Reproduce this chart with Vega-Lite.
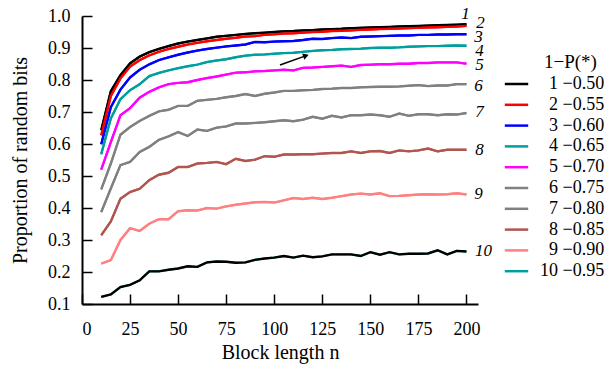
{
  "$schema": "https://vega.github.io/schema/vega-lite/v6.json",
  "autosize": {"type": "none"},
  "width": 396,
  "height": 288,
  "padding": {"left": 82, "top": 16, "right": 129, "bottom": 66},
  "background": "white",
  "config": {
    "view": {"stroke": null},
    "font": "Liberation Serif",
    "axis": {
      "grid": false,
      "domainColor": "black",
      "domainWidth": 2,
      "tickColor": "black",
      "tickWidth": 1.5,
      "tickSize": -10,
      "labelFont": "Liberation Serif",
      "labelFontSize": 18,
      "labelColor": "black",
      "titleFont": "Liberation Serif",
      "titleFontSize": 20,
      "titleFontWeight": "normal",
      "titleColor": "black"
    },
    "legend": {
      "labelFont": "Liberation Serif",
      "titleFont": "Liberation Serif",
      "labelColor": "black",
      "titleColor": "black"
    }
  },
  "datasets": {
    "curves": [
      {"c":1,"n":10,"p":0.643},{"c":1,"n":15,"p":0.765},{"c":1,"n":20,"p":0.815},{"c":1,"n":25,"p":0.852},{"c":1,"n":30,"p":0.873},{"c":1,"n":35,"p":0.887},{"c":1,"n":40,"p":0.897},{"c":1,"n":45,"p":0.906},{"c":1,"n":50,"p":0.914},{"c":1,"n":55,"p":0.92},{"c":1,"n":60,"p":0.925},{"c":1,"n":65,"p":0.93},{"c":1,"n":70,"p":0.935},{"c":1,"n":75,"p":0.938},{"c":1,"n":80,"p":0.941},{"c":1,"n":85,"p":0.944},{"c":1,"n":90,"p":0.946},{"c":1,"n":95,"p":0.948},{"c":1,"n":100,"p":0.95},{"c":1,"n":105,"p":0.952},{"c":1,"n":110,"p":0.953},{"c":1,"n":115,"p":0.955},{"c":1,"n":120,"p":0.956},{"c":1,"n":125,"p":0.958},{"c":1,"n":130,"p":0.959},{"c":1,"n":135,"p":0.96},{"c":1,"n":140,"p":0.962},{"c":1,"n":145,"p":0.963},{"c":1,"n":150,"p":0.964},{"c":1,"n":155,"p":0.965},{"c":1,"n":160,"p":0.966},{"c":1,"n":165,"p":0.967},{"c":1,"n":170,"p":0.968},{"c":1,"n":175,"p":0.969},{"c":1,"n":180,"p":0.97},{"c":1,"n":185,"p":0.971},{"c":1,"n":190,"p":0.972},{"c":1,"n":195,"p":0.973},{"c":1,"n":200,"p":0.974},
      {"c":2,"n":10,"p":0.627},{"c":2,"n":15,"p":0.75},{"c":2,"n":20,"p":0.805},{"c":2,"n":25,"p":0.842},{"c":2,"n":30,"p":0.862},{"c":2,"n":35,"p":0.877},{"c":2,"n":40,"p":0.888},{"c":2,"n":45,"p":0.897},{"c":2,"n":50,"p":0.904},{"c":2,"n":55,"p":0.911},{"c":2,"n":60,"p":0.916},{"c":2,"n":65,"p":0.921},{"c":2,"n":70,"p":0.925},{"c":2,"n":75,"p":0.929},{"c":2,"n":80,"p":0.932},{"c":2,"n":85,"p":0.936},{"c":2,"n":90,"p":0.937},{"c":2,"n":95,"p":0.941},{"c":2,"n":100,"p":0.943},{"c":2,"n":105,"p":0.945},{"c":2,"n":110,"p":0.946},{"c":2,"n":115,"p":0.948},{"c":2,"n":120,"p":0.95},{"c":2,"n":125,"p":0.951},{"c":2,"n":130,"p":0.953},{"c":2,"n":135,"p":0.954},{"c":2,"n":140,"p":0.955},{"c":2,"n":145,"p":0.957},{"c":2,"n":150,"p":0.958},{"c":2,"n":155,"p":0.959},{"c":2,"n":160,"p":0.96},{"c":2,"n":165,"p":0.961},{"c":2,"n":170,"p":0.962},{"c":2,"n":175,"p":0.963},{"c":2,"n":180,"p":0.964},{"c":2,"n":185,"p":0.965},{"c":2,"n":190,"p":0.966},{"c":2,"n":195,"p":0.967},{"c":2,"n":200,"p":0.969},
      {"c":3,"n":10,"p":0.599},{"c":3,"n":15,"p":0.715},{"c":3,"n":20,"p":0.77},{"c":3,"n":25,"p":0.808},{"c":3,"n":30,"p":0.832},{"c":3,"n":35,"p":0.849},{"c":3,"n":40,"p":0.862},{"c":3,"n":45,"p":0.871},{"c":3,"n":50,"p":0.879},{"c":3,"n":55,"p":0.886},{"c":3,"n":60,"p":0.892},{"c":3,"n":65,"p":0.897},{"c":3,"n":70,"p":0.901},{"c":3,"n":75,"p":0.905},{"c":3,"n":80,"p":0.908},{"c":3,"n":85,"p":0.911},{"c":3,"n":90,"p":0.919},{"c":3,"n":95,"p":0.918},{"c":3,"n":100,"p":0.92},{"c":3,"n":105,"p":0.921},{"c":3,"n":110,"p":0.922},{"c":3,"n":115,"p":0.925},{"c":3,"n":120,"p":0.929},{"c":3,"n":125,"p":0.928},{"c":3,"n":130,"p":0.931},{"c":3,"n":135,"p":0.933},{"c":3,"n":140,"p":0.931},{"c":3,"n":145,"p":0.935},{"c":3,"n":150,"p":0.936},{"c":3,"n":155,"p":0.937},{"c":3,"n":160,"p":0.938},{"c":3,"n":165,"p":0.939},{"c":3,"n":170,"p":0.939},{"c":3,"n":175,"p":0.941},{"c":3,"n":180,"p":0.941},{"c":3,"n":185,"p":0.942},{"c":3,"n":190,"p":0.942},{"c":3,"n":195,"p":0.943},{"c":3,"n":200,"p":0.943},
      {"c":4,"n":10,"p":0.568},{"c":4,"n":15,"p":0.68},{"c":4,"n":20,"p":0.74},{"c":4,"n":25,"p":0.768},{"c":4,"n":30,"p":0.787},{"c":4,"n":35,"p":0.812},{"c":4,"n":40,"p":0.822},{"c":4,"n":45,"p":0.83},{"c":4,"n":50,"p":0.837},{"c":4,"n":55,"p":0.843},{"c":4,"n":60,"p":0.848},{"c":4,"n":65,"p":0.856},{"c":4,"n":70,"p":0.861},{"c":4,"n":75,"p":0.865},{"c":4,"n":80,"p":0.871},{"c":4,"n":85,"p":0.876},{"c":4,"n":90,"p":0.879},{"c":4,"n":95,"p":0.88},{"c":4,"n":100,"p":0.882},{"c":4,"n":105,"p":0.884},{"c":4,"n":110,"p":0.885},{"c":4,"n":115,"p":0.888},{"c":4,"n":120,"p":0.891},{"c":4,"n":125,"p":0.893},{"c":4,"n":130,"p":0.894},{"c":4,"n":135,"p":0.896},{"c":4,"n":140,"p":0.897},{"c":4,"n":145,"p":0.898},{"c":4,"n":150,"p":0.9},{"c":4,"n":155,"p":0.901},{"c":4,"n":160,"p":0.901},{"c":4,"n":165,"p":0.902},{"c":4,"n":170,"p":0.904},{"c":4,"n":175,"p":0.905},{"c":4,"n":180,"p":0.906},{"c":4,"n":185,"p":0.906},{"c":4,"n":190,"p":0.907},{"c":4,"n":195,"p":0.908},{"c":4,"n":200,"p":0.907},
      {"c":5,"n":10,"p":0.52},{"c":5,"n":15,"p":0.606},{"c":5,"n":20,"p":0.69},{"c":5,"n":25,"p":0.712},{"c":5,"n":30,"p":0.745},{"c":5,"n":35,"p":0.763},{"c":5,"n":40,"p":0.777},{"c":5,"n":45,"p":0.787},{"c":5,"n":50,"p":0.791},{"c":5,"n":55,"p":0.793},{"c":5,"n":60,"p":0.8},{"c":5,"n":65,"p":0.806},{"c":5,"n":70,"p":0.811},{"c":5,"n":75,"p":0.817},{"c":5,"n":80,"p":0.823},{"c":5,"n":85,"p":0.824},{"c":5,"n":90,"p":0.827},{"c":5,"n":95,"p":0.828},{"c":5,"n":100,"p":0.83},{"c":5,"n":105,"p":0.832},{"c":5,"n":110,"p":0.83},{"c":5,"n":115,"p":0.838},{"c":5,"n":120,"p":0.839},{"c":5,"n":125,"p":0.841},{"c":5,"n":130,"p":0.843},{"c":5,"n":135,"p":0.845},{"c":5,"n":140,"p":0.841},{"c":5,"n":145,"p":0.847},{"c":5,"n":150,"p":0.848},{"c":5,"n":155,"p":0.849},{"c":5,"n":160,"p":0.849},{"c":5,"n":165,"p":0.851},{"c":5,"n":170,"p":0.851},{"c":5,"n":175,"p":0.853},{"c":5,"n":180,"p":0.853},{"c":5,"n":185,"p":0.855},{"c":5,"n":190,"p":0.855},{"c":5,"n":195,"p":0.855},{"c":5,"n":200,"p":0.851},
      {"c":6,"n":10,"p":0.458},{"c":6,"n":15,"p":0.539},{"c":6,"n":20,"p":0.629},{"c":6,"n":25,"p":0.653},{"c":6,"n":30,"p":0.672},{"c":6,"n":35,"p":0.688},{"c":6,"n":40,"p":0.702},{"c":6,"n":45,"p":0.707},{"c":6,"n":50,"p":0.719},{"c":6,"n":55,"p":0.719},{"c":6,"n":60,"p":0.735},{"c":6,"n":65,"p":0.738},{"c":6,"n":70,"p":0.741},{"c":6,"n":75,"p":0.746},{"c":6,"n":80,"p":0.75},{"c":6,"n":85,"p":0.756},{"c":6,"n":90,"p":0.75},{"c":6,"n":95,"p":0.757},{"c":6,"n":100,"p":0.761},{"c":6,"n":105,"p":0.766},{"c":6,"n":110,"p":0.766},{"c":6,"n":115,"p":0.768},{"c":6,"n":120,"p":0.769},{"c":6,"n":125,"p":0.772},{"c":6,"n":130,"p":0.773},{"c":6,"n":135,"p":0.775},{"c":6,"n":140,"p":0.775},{"c":6,"n":145,"p":0.777},{"c":6,"n":150,"p":0.778},{"c":6,"n":155,"p":0.779},{"c":6,"n":160,"p":0.779},{"c":6,"n":165,"p":0.78},{"c":6,"n":170,"p":0.782},{"c":6,"n":175,"p":0.784},{"c":6,"n":180,"p":0.781},{"c":6,"n":185,"p":0.783},{"c":6,"n":190,"p":0.783},{"c":6,"n":195,"p":0.787},{"c":6,"n":200,"p":0.787},
      {"c":7,"n":10,"p":0.387},{"c":7,"n":15,"p":0.461},{"c":7,"n":20,"p":0.534},{"c":7,"n":25,"p":0.544},{"c":7,"n":30,"p":0.575},{"c":7,"n":35,"p":0.591},{"c":7,"n":40,"p":0.613},{"c":7,"n":45,"p":0.624},{"c":7,"n":50,"p":0.637},{"c":7,"n":55,"p":0.625},{"c":7,"n":60,"p":0.645},{"c":7,"n":65,"p":0.641},{"c":7,"n":70,"p":0.651},{"c":7,"n":75,"p":0.655},{"c":7,"n":80,"p":0.664},{"c":7,"n":85,"p":0.664},{"c":7,"n":90,"p":0.666},{"c":7,"n":95,"p":0.668},{"c":7,"n":100,"p":0.671},{"c":7,"n":105,"p":0.674},{"c":7,"n":110,"p":0.671},{"c":7,"n":115,"p":0.676},{"c":7,"n":120,"p":0.685},{"c":7,"n":125,"p":0.679},{"c":7,"n":130,"p":0.688},{"c":7,"n":135,"p":0.683},{"c":7,"n":140,"p":0.69},{"c":7,"n":145,"p":0.69},{"c":7,"n":150,"p":0.692},{"c":7,"n":155,"p":0.69},{"c":7,"n":160,"p":0.685},{"c":7,"n":165,"p":0.695},{"c":7,"n":170,"p":0.688},{"c":7,"n":175,"p":0.693},{"c":7,"n":180,"p":0.693},{"c":7,"n":185,"p":0.69},{"c":7,"n":190,"p":0.693},{"c":7,"n":195,"p":0.692},{"c":7,"n":200,"p":0.697},
      {"c":8,"n":10,"p":0.315},{"c":8,"n":15,"p":0.358},{"c":8,"n":20,"p":0.429},{"c":8,"n":25,"p":0.45},{"c":8,"n":30,"p":0.46},{"c":8,"n":35,"p":0.487},{"c":8,"n":40,"p":0.504},{"c":8,"n":45,"p":0.51},{"c":8,"n":50,"p":0.528},{"c":8,"n":55,"p":0.528},{"c":8,"n":60,"p":0.539},{"c":8,"n":65,"p":0.541},{"c":8,"n":70,"p":0.544},{"c":8,"n":75,"p":0.537},{"c":8,"n":80,"p":0.554},{"c":8,"n":85,"p":0.547},{"c":8,"n":90,"p":0.551},{"c":8,"n":95,"p":0.562},{"c":8,"n":100,"p":0.56},{"c":8,"n":105,"p":0.567},{"c":8,"n":110,"p":0.567},{"c":8,"n":115,"p":0.568},{"c":8,"n":120,"p":0.568},{"c":8,"n":125,"p":0.57},{"c":8,"n":130,"p":0.572},{"c":8,"n":135,"p":0.572},{"c":8,"n":140,"p":0.577},{"c":8,"n":145,"p":0.572},{"c":8,"n":150,"p":0.577},{"c":8,"n":155,"p":0.578},{"c":8,"n":160,"p":0.572},{"c":8,"n":165,"p":0.58},{"c":8,"n":170,"p":0.577},{"c":8,"n":175,"p":0.58},{"c":8,"n":180,"p":0.586},{"c":8,"n":185,"p":0.577},{"c":8,"n":190,"p":0.582},{"c":8,"n":195,"p":0.582},{"c":8,"n":200,"p":0.582},
      {"c":9,"n":10,"p":0.226},{"c":9,"n":15,"p":0.237},{"c":9,"n":20,"p":0.3},{"c":9,"n":25,"p":0.337},{"c":9,"n":30,"p":0.328},{"c":9,"n":35,"p":0.351},{"c":9,"n":40,"p":0.365},{"c":9,"n":45,"p":0.365},{"c":9,"n":50,"p":0.39},{"c":9,"n":55,"p":0.393},{"c":9,"n":60,"p":0.392},{"c":9,"n":65,"p":0.4},{"c":9,"n":70,"p":0.398},{"c":9,"n":75,"p":0.405},{"c":9,"n":80,"p":0.41},{"c":9,"n":85,"p":0.414},{"c":9,"n":90,"p":0.418},{"c":9,"n":95,"p":0.419},{"c":9,"n":100,"p":0.417},{"c":9,"n":105,"p":0.424},{"c":9,"n":110,"p":0.431},{"c":9,"n":115,"p":0.428},{"c":9,"n":120,"p":0.432},{"c":9,"n":125,"p":0.428},{"c":9,"n":130,"p":0.432},{"c":9,"n":135,"p":0.437},{"c":9,"n":140,"p":0.442},{"c":9,"n":145,"p":0.445},{"c":9,"n":150,"p":0.442},{"c":9,"n":155,"p":0.446},{"c":9,"n":160,"p":0.437},{"c":9,"n":165,"p":0.438},{"c":9,"n":170,"p":0.44},{"c":9,"n":175,"p":0.442},{"c":9,"n":180,"p":0.443},{"c":9,"n":185,"p":0.442},{"c":9,"n":190,"p":0.443},{"c":9,"n":195,"p":0.446},{"c":9,"n":200,"p":0.442},
      {"c":10,"n":10,"p":0.122},{"c":10,"n":15,"p":0.13},{"c":10,"n":20,"p":0.153},{"c":10,"n":25,"p":0.16},{"c":10,"n":30,"p":0.174},{"c":10,"n":35,"p":0.202},{"c":10,"n":40,"p":0.202},{"c":10,"n":45,"p":0.207},{"c":10,"n":50,"p":0.211},{"c":10,"n":55,"p":0.218},{"c":10,"n":60,"p":0.216},{"c":10,"n":65,"p":0.23},{"c":10,"n":70,"p":0.233},{"c":10,"n":75,"p":0.232},{"c":10,"n":80,"p":0.229},{"c":10,"n":85,"p":0.23},{"c":10,"n":90,"p":0.238},{"c":10,"n":95,"p":0.242},{"c":10,"n":100,"p":0.245},{"c":10,"n":105,"p":0.25},{"c":10,"n":110,"p":0.245},{"c":10,"n":115,"p":0.251},{"c":10,"n":120,"p":0.246},{"c":10,"n":125,"p":0.249},{"c":10,"n":130,"p":0.255},{"c":10,"n":135,"p":0.255},{"c":10,"n":140,"p":0.255},{"c":10,"n":145,"p":0.25},{"c":10,"n":150,"p":0.262},{"c":10,"n":155,"p":0.254},{"c":10,"n":160,"p":0.262},{"c":10,"n":165,"p":0.255},{"c":10,"n":170,"p":0.257},{"c":10,"n":175,"p":0.257},{"c":10,"n":180,"p":0.258},{"c":10,"n":185,"p":0.268},{"c":10,"n":190,"p":0.255},{"c":10,"n":195,"p":0.266},{"c":10,"n":200,"p":0.264}
    ],
    "labels": [
      {"t":"1","n":199.5,"p":1.006},
      {"t":"2","n":207.3,"p":0.978},
      {"t":"3","n":206.3,"p":0.934},
      {"t":"4","n":206.8,"p":0.891},
      {"t":"5","n":206.8,"p":0.846},
      {"t":"6","n":206.3,"p":0.78},
      {"t":"7","n":206.8,"p":0.699},
      {"t":"8","n":206.8,"p":0.58},
      {"t":"9","n":206.3,"p":0.443},
      {"t":"10","n":208.9,"p":0.265}
    ],
    "arrow": [
      {"n":103,"p":0.847,"n2":117,"p2":0.877}
    ],
    "arrowhead": [
      {"n":116.5,"p":0.876}
    ]
  },
  "encoding": {
    "x": {
      "field": "n",
      "type": "quantitative",
      "scale": {"domain": [0, 206], "nice": false, "zero": false},
      "axis": {
        "values": [0, 25, 50, 75, 100, 125, 150, 175, 200],
        "title": "Block length n",
        "labelPadding": 26,
        "titlePadding": 4
      }
    },
    "y": {
      "field": "p",
      "type": "quantitative",
      "scale": {"domain": [0.1, 1.0], "nice": false, "zero": false},
      "axis": {
        "values": [0.1, 0.2, 0.3, 0.4, 0.5, 0.6, 0.7, 0.8, 0.9, 1.0],
        "format": ".1f",
        "title": "Proportion of random bits",
        "labelPadding": 22,
        "titlePadding": 17
      }
    }
  },
  "layer": [
    {
      "data": {"name": "curves"},
      "mark": {"type": "line", "strokeWidth": 2},
      "encoding": {
        "color": {
          "field": "c",
          "type": "nominal",
          "scale": {
            "domain": [1, 2, 3, 4, 5, 6, 7, 8, 9, 10],
            "range": ["#000000", "#ff0000", "#0000ff", "#009e9e", "#ff00ff", "#808080", "#808080", "#b0564e", "#ff8080", "#009e9e"]
          },
          "legend": {
            "title": "\u200b\u00a0\u00a0\u00a0\u00a0\u00a0\u00a0\u00a0\u00a01\u2212P(*)",
            "titleFontSize": 19,
            "titleFontWeight": "normal",
            "titleAnchor": "start",
            "titlePadding": 1.5,
            "orient": "none",
            "legendX": 424,
            "legendY": 37,
            "symbolType": "M-1.3,0H1.3",
            "symbolSize": 324,
            "symbolStrokeWidth": 2.5,
            "labelFontSize": 18,
            "labelOffset": 13,
            "rowPadding": 0.8,
            "labelLimit": 200,
            "labelExpr": "['', '\u200b\u00a0\u00a01 \u22120.50', '\u200b\u00a0\u00a02 \u22120.55', '\u200b\u00a0\u00a03 \u22120.60', '\u200b\u00a0\u00a04 \u22120.65', '\u200b\u00a0\u00a05 \u22120.70', '\u200b\u00a0\u00a06 \u22120.75', '\u200b\u00a0\u00a07 \u22120.80', '\u200b\u00a0\u00a08 \u22120.85', '\u200b\u00a0\u00a09 \u22120.90', '10 \u22120.95'][datum.value]"
          }
        }
      }
    },
    {
      "data": {"name": "curves"},
      "mark": {"type": "line", "strokeWidth": 2.4},
      "encoding": {
        "color": {
          "field": "c",
          "type": "nominal",
          "scale": {
            "domain": [1, 2, 3, 4, 5, 6, 7, 8, 9, 10],
            "range": ["#000000", "#ff0000", "#0000ff", "#009e9e", "#ff00ff", "#808080", "#808080", "#b0564e", "#ff8080", "#000000"]
          },
          "legend": null
        }
      }
    },
    {
      "data": {"name": "labels"},
      "mark": {"type": "text", "font": "Liberation Serif", "fontSize": 17, "fontStyle": "italic", "align": "center", "baseline": "middle", "color": "black"},
      "encoding": {"text": {"field": "t"}}
    },
    {
      "data": {"name": "arrow"},
      "mark": {"type": "rule", "color": "black", "strokeWidth": 1.5},
      "encoding": {"x2": {"field": "n2"}, "y2": {"field": "p2"}}
    },
    {
      "data": {"name": "arrowhead"},
      "mark": {"type": "point", "shape": "triangle-right", "filled": true, "color": "black", "size": 45, "angle": -20, "opacity": 1},
      "encoding": {}
    }
  ],
  "resolve": {"scale": {"color": "independent"}, "legend": {"color": "independent"}}
}
